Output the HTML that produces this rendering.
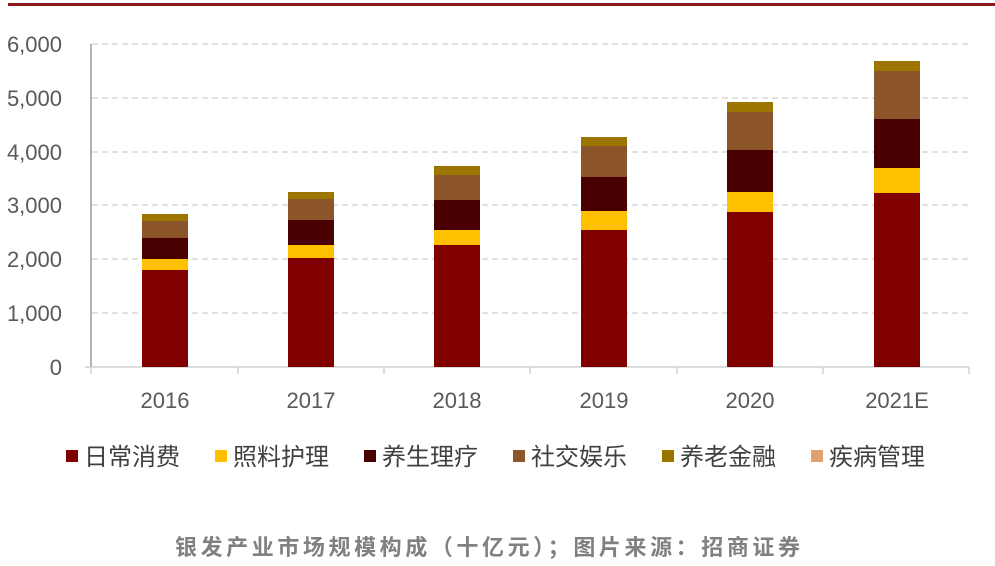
<!DOCTYPE html>
<html><head><meta charset="utf-8"><style>
body{margin:0;background:#fff;width:995px;height:561px;overflow:hidden;font-family:"Liberation Sans","Noto Sans CJK SC",sans-serif}
</style></head><body>
<svg width="995" height="561" xmlns="http://www.w3.org/2000/svg" font-family="Liberation Sans, Noto Sans CJK SC, sans-serif">
<line x1="8" y1="4.5" x2="995" y2="4.5" stroke="#8b1a1a" stroke-width="3"/>
<g stroke="#d9d9d9" stroke-width="1.5" stroke-dasharray="6,4">
<line x1="92" y1="44" x2="969" y2="44"/><line x1="92" y1="98" x2="969" y2="98"/>
<line x1="92" y1="152" x2="969" y2="152"/><line x1="92" y1="205" x2="969" y2="205"/>
<line x1="92" y1="259" x2="969" y2="259"/><line x1="92" y1="313" x2="969" y2="313"/>
</g>
<line x1="91" y1="44" x2="91" y2="367" stroke="#999" stroke-width="1.5"/>
<line x1="85" y1="367" x2="969" y2="367" stroke="#d0d0d0" stroke-width="1.5"/>
<g stroke="#d0d0d0" stroke-width="1.5">
<line x1="91" y1="367" x2="91" y2="374"/><line x1="238" y1="367" x2="238" y2="374"/><line x1="384" y1="367" x2="384" y2="374"/><line x1="530" y1="367" x2="530" y2="374"/><line x1="677" y1="367" x2="677" y2="374"/><line x1="823" y1="367" x2="823" y2="374"/><line x1="969" y1="367" x2="969" y2="374"/>
</g>
<g font-size="22" fill="#595959" text-anchor="end">
<text x="62" y="52">6,000</text><text x="62" y="106">5,000</text><text x="62" y="160">4,000</text>
<text x="62" y="213">3,000</text><text x="62" y="267">2,000</text><text x="62" y="321">1,000</text><text x="62" y="375">0</text>
</g>
<g font-size="22" fill="#595959" text-anchor="middle">
<text x="165" y="408">2016</text><text x="311" y="408">2017</text><text x="457" y="408">2018</text>
<text x="604" y="408">2019</text><text x="750" y="408">2020</text><text x="897" y="408">2021E</text>
</g>
<g>
<rect x="142" y="270" width="46" height="97" fill="#800000"/>
<rect x="142" y="259" width="46" height="11" fill="#ffc000"/>
<rect x="142" y="238" width="46" height="21" fill="#4a0000"/>
<rect x="142" y="221" width="46" height="17" fill="#8b5529"/>
<rect x="142" y="214" width="46" height="7" fill="#9c7400"/>
<rect x="288" y="258" width="46" height="109" fill="#800000"/>
<rect x="288" y="245" width="46" height="13" fill="#ffc000"/>
<rect x="288" y="220" width="46" height="25" fill="#4a0000"/>
<rect x="288" y="199" width="46" height="21" fill="#8b5529"/>
<rect x="288" y="192" width="46" height="7" fill="#9c7400"/>
<rect x="434" y="245" width="46" height="122" fill="#800000"/>
<rect x="434" y="230" width="46" height="15" fill="#ffc000"/>
<rect x="434" y="200" width="46" height="30" fill="#4a0000"/>
<rect x="434" y="175" width="46" height="25" fill="#8b5529"/>
<rect x="434" y="166" width="46" height="9" fill="#9c7400"/>
<rect x="581" y="230" width="46" height="137" fill="#800000"/>
<rect x="581" y="211" width="46" height="19" fill="#ffc000"/>
<rect x="581" y="177" width="46" height="34" fill="#4a0000"/>
<rect x="581" y="146" width="46" height="31" fill="#8b5529"/>
<rect x="581" y="137" width="46" height="9" fill="#9c7400"/>
<rect x="727" y="212" width="46" height="155" fill="#800000"/>
<rect x="727" y="192" width="46" height="20" fill="#ffc000"/>
<rect x="727" y="150" width="46" height="42" fill="#4a0000"/>
<rect x="727" y="112" width="46" height="38" fill="#8b5529"/>
<rect x="727" y="102" width="46" height="10" fill="#9c7400"/>
<rect x="874" y="193" width="46" height="174" fill="#800000"/>
<rect x="874" y="168" width="46" height="25" fill="#ffc000"/>
<rect x="874" y="119" width="46" height="49" fill="#4a0000"/>
<rect x="874" y="71" width="46" height="48" fill="#8b5529"/>
<rect x="874" y="61" width="46" height="10" fill="#9c7400"/>
</g>
<g font-size="24" fill="#404040">
<rect x="66" y="450" width="12" height="12" fill="#800000"/><text x="84" y="465">日常消费</text>
<rect x="215" y="450" width="12" height="12" fill="#ffc000"/><text x="233" y="465">照料护理</text>
<rect x="364" y="450" width="12" height="12" fill="#4a0000"/><text x="382" y="465">养生理疗</text>
<rect x="513" y="450" width="12" height="12" fill="#8b5529"/><text x="531" y="465">社交娱乐</text>
<rect x="662" y="450" width="12" height="12" fill="#9c7400"/><text x="680" y="465">养老金融</text>
<rect x="811" y="450" width="12" height="12" fill="#e0a070"/><text x="829" y="465">疾病管理</text>
</g>
<text x="175" y="555" font-size="22" font-weight="bold" fill="#808080" textLength="625" lengthAdjust="spacing">银发产业市场规模构成（十亿元）；图片来源：招商证券</text>
</svg>
</body></html>
